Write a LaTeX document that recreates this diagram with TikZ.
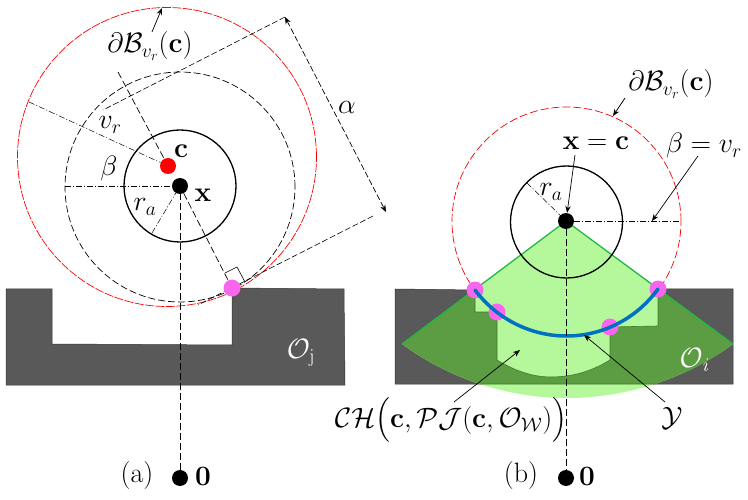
\RequirePackage{fix-cm}
\documentclass[tikz,border=0pt]{standalone}
\usepackage{amsmath}
\usetikzlibrary{arrows.meta}
\definecolor{obst}{HTML}{595959}
\definecolor{lightg}{HTML}{B5F79B}
\definecolor{darkg}{HTML}{5C9C42}
\definecolor{edgeg}{HTML}{22B845}
\definecolor{notchg}{HTML}{3F7F2A}
\definecolor{pinkd}{HTML}{F866EE}
\definecolor{blued}{HTML}{0070C0}
\newcommand{\lbl}{\fontsize{28}{32}\selectfont}
\tikzset{
  dotb/.style={circle,fill=black,inner sep=0pt,minimum size=16pt},
  dotr/.style={circle,fill=red,inner sep=0pt,minimum size=16pt},
  dotp/.style={circle,fill=pinkd,inner sep=0pt,minimum size=17pt},
  txt/.style={inner sep=0pt,font=\lbl},
  wtxt/.style={txt,text=white},
  dashk/.style={draw=black,line width=0.7pt,dash pattern=on 7pt off 3pt},
  dashthin/.style={draw=black,line width=0.6pt,dash pattern=on 6pt off 2.5pt},
  dashred/.style={draw=red,line width=0.7pt,dash pattern=on 9pt off 1.5pt},
  dashredb/.style={draw=red,line width=0.7pt,dash pattern=on 8pt off 3pt},
  dashdot/.style={draw=black,line width=0.5pt,dash pattern=on 6pt off 2pt on 1pt off 2pt},
  robot/.style={draw=black,line width=1.3pt},
  pointer/.style={draw=black,line width=0.7pt,-{Stealth[length=7pt,width=5.5pt]}},
  dimen/.style={draw=black,line width=0.7pt,dash pattern=on 6pt off 2.5pt,{Stealth[length=7pt,width=5.5pt]}-{Stealth[length=7pt,width=5.5pt]}},
  thinl/.style={draw=black,line width=0.6pt}
}
\begin{document}
\begin{tikzpicture}[x=1pt,y=-1pt]
\useasboundingbox (0,0) rectangle (748,500);
\def\sectorpath{(566,221) -- (402,344) .. controls (450,379) and (507.5,398) .. (567,398) .. controls (626.5,398) and (685,379) .. (733,344) -- cycle}
\def\obstR{(395,289) -- (475,290) -- (475,312) -- (497,312) -- (497,360) .. controls (515,371) and (533,377) .. (551,377) .. controls (573,377) and (592,371) .. (610,360) -- (610,327) -- (658,326) -- (658,289) -- (733,289) -- (733,384) -- (395,384) -- cycle}
% ---- panel (a) shapes
\fill[obst] (6,289) -- (52,289) -- (52,344) -- (232,345) -- (232,288) -- (344,289) -- (345,385) -- (6,385) -- cycle;
\draw[black!80,line width=0.5pt] (6,289) -- (52,289) -- (52,344) -- (232,345) -- (232,288) -- (344,289) -- (345,385) -- (6,385) -- cycle;
\draw[dashred] (167,157) circle[radius=149.5pt];
\draw[dashk] (180,187) circle[radius=115pt];
\draw[robot] (180,186) circle[radius=56pt];
% ---- panel (b) shapes
\draw[dashredb] (566.5,221.5) circle[radius=114.5pt];
\fill[obst] \obstR;
\draw[black!80,line width=0.5pt] \obstR;
\fill[lightg] \sectorpath;
\begin{scope}
  \clip \sectorpath;
  \fill[darkg] \obstR;
  \draw[notchg,line width=0.6pt] \obstR;
\end{scope}
\draw[edgeg,line width=1.3pt] (402,344) -- (566,221) -- (733,344);
\draw[robot] (566.5,222) circle[radius=56pt];
% ---- panel (a) nodes
\coordinate (t1a) at (285,17);
\coordinate (t1b) at (103,110);
\coordinate (t2a) at (373,216);
\coordinate (t2b) at (198,305);
\coordinate (ra1) at (225,273);
\coordinate (ra2) at (237,267);
\coordinate (ra3) at (245,282);
\draw[dashthin] (t1a) -- (t1b);
\draw[dashthin] (t2a) -- (t2b);
\draw[thinl] (ra1) -- (ra2) -- (ra3);
\node[dotb] (xa) at (180,186) {};
\node[dotr] (ca) at (168,166) {};
\node[dotp] (pa) at (232,288) {};
\node[dotb] (oa) at (180,478) {};
\coordinate (axtop) at (118,72);
\coordinate (da) at (285,17);
\coordinate (db) at (386,212);
\coordinate (vrend) at (29,102);
\coordinate (betaend) at (65,186);
\coordinate (raend) at (152,233);
\coordinate (ba1) at (152,32);
\coordinate (ba2) at (162,8);
\draw[dashk] (oa) -- (xa);
\draw[dashk] (axtop) -- (ca);
\draw[dashk] (xa) -- (pa);
\draw[dimen] (da) -- (db);
\draw[dashdot] (vrend) -- (ca);
\draw[dashdot] (betaend) -- (xa);
\draw[dashdot] (raend) -- (xa);
\draw[pointer] (ba1) -- (ba2);
% ---- panel (a) labels
\node[txt] (la1) at (150,46) {$\partial\mathcal{B}_{v_r}(\mathbf{c})$};
\node[txt] (la2) at (181,151) {$\mathbf{c}$};
\node[txt] (la3) at (203,195) {$\mathbf{x}$};
\node[txt] (la4) at (110,125) {$v_r$};
\node[txt] (la5) at (109,169) {$\beta$};
\node[txt] (la6) at (145,207) {$r_a$};
\node[txt] (la7) at (347,107) {$\alpha$};
\node[wtxt] (la8) at (301,353) {$\mathcal{O}_{\mathrm{j}}$};
\node[txt] (la9) at (137,476) {(a)};
\node[txt] (la10) at (203,476) {$\mathbf{0}$};
% ---- panel (b) nodes
\node[dotp] (p1) at (475,290) {};
\node[dotp] (p2) at (497,312) {};
\node[dotp] (p3) at (610,327) {};
\node[dotp] (p4) at (658,289) {};
\draw[blued,line width=3.5pt,line cap=round] (p1.center) .. controls (496.6,318.8) and (530.5,336) .. (566.5,336) .. controls (602.5,336) and (636.4,318.8) .. (p4.center);
\node[dotb] (xb) at (566,221) {};
\node[dotb] (ob) at (566,478) {};
\coordinate (rb) at (527,183);
\coordinate (bb) at (681,221);
\coordinate (betamid) at (652,221);
\coordinate (r1) at (625,98);
\coordinate (r2) at (613,116);
\coordinate (hull) at (520,350);
\coordinate (arc) at (584,335);
\draw[dashk] (xb) -- (ob);
\draw[dashdot] (rb) -- (xb);
\draw[dashdot] (xb) -- (bb);
\draw[pointer] (r1) -- (r2);
% ---- panel (b) labels
\node[txt] (lb1) at (671,84) {$\partial\mathcal{B}_{v_r}(\mathbf{c})$};
\node[txt] (lb2) at (596,143) {$\mathbf{x}=\mathbf{c}$};
\node[txt] (lb3) at (704,146) {$\beta=v_r$};
\node[txt] (lb4) at (551,192) {$r_a$};
\node[wtxt] (lb5) at (695,360) {$\mathcal{O}_{\mathit{i}}$};
\node[txt] (lb6) at (451,420) {$\mathcal{CH}\bigl(\mathbf{c},\mathcal{PJ}(\mathbf{c},\mathcal{O}_{\mathcal{W}})\bigr)$};
\node[txt] (lb7) at (672,418) {$\mathcal{Y}$};
\node[txt] (lb8) at (521,476) {(b)};
\node[txt] (lb9) at (587,476) {$\mathbf{0}$};
\coordinate (lb2a) at (575,155);
\coordinate (lb3a) at (698,156);
\coordinate (lb6a) at (454,402);
\coordinate (lb7a) at (665,402);
\draw[pointer] (lb2a) -- (xb);
\draw[pointer] (lb3a) -- (betamid);
\draw[pointer] (lb6a) -- (hull);
\draw[pointer] (lb7a) -- (arc);
\end{tikzpicture}
\end{document}
